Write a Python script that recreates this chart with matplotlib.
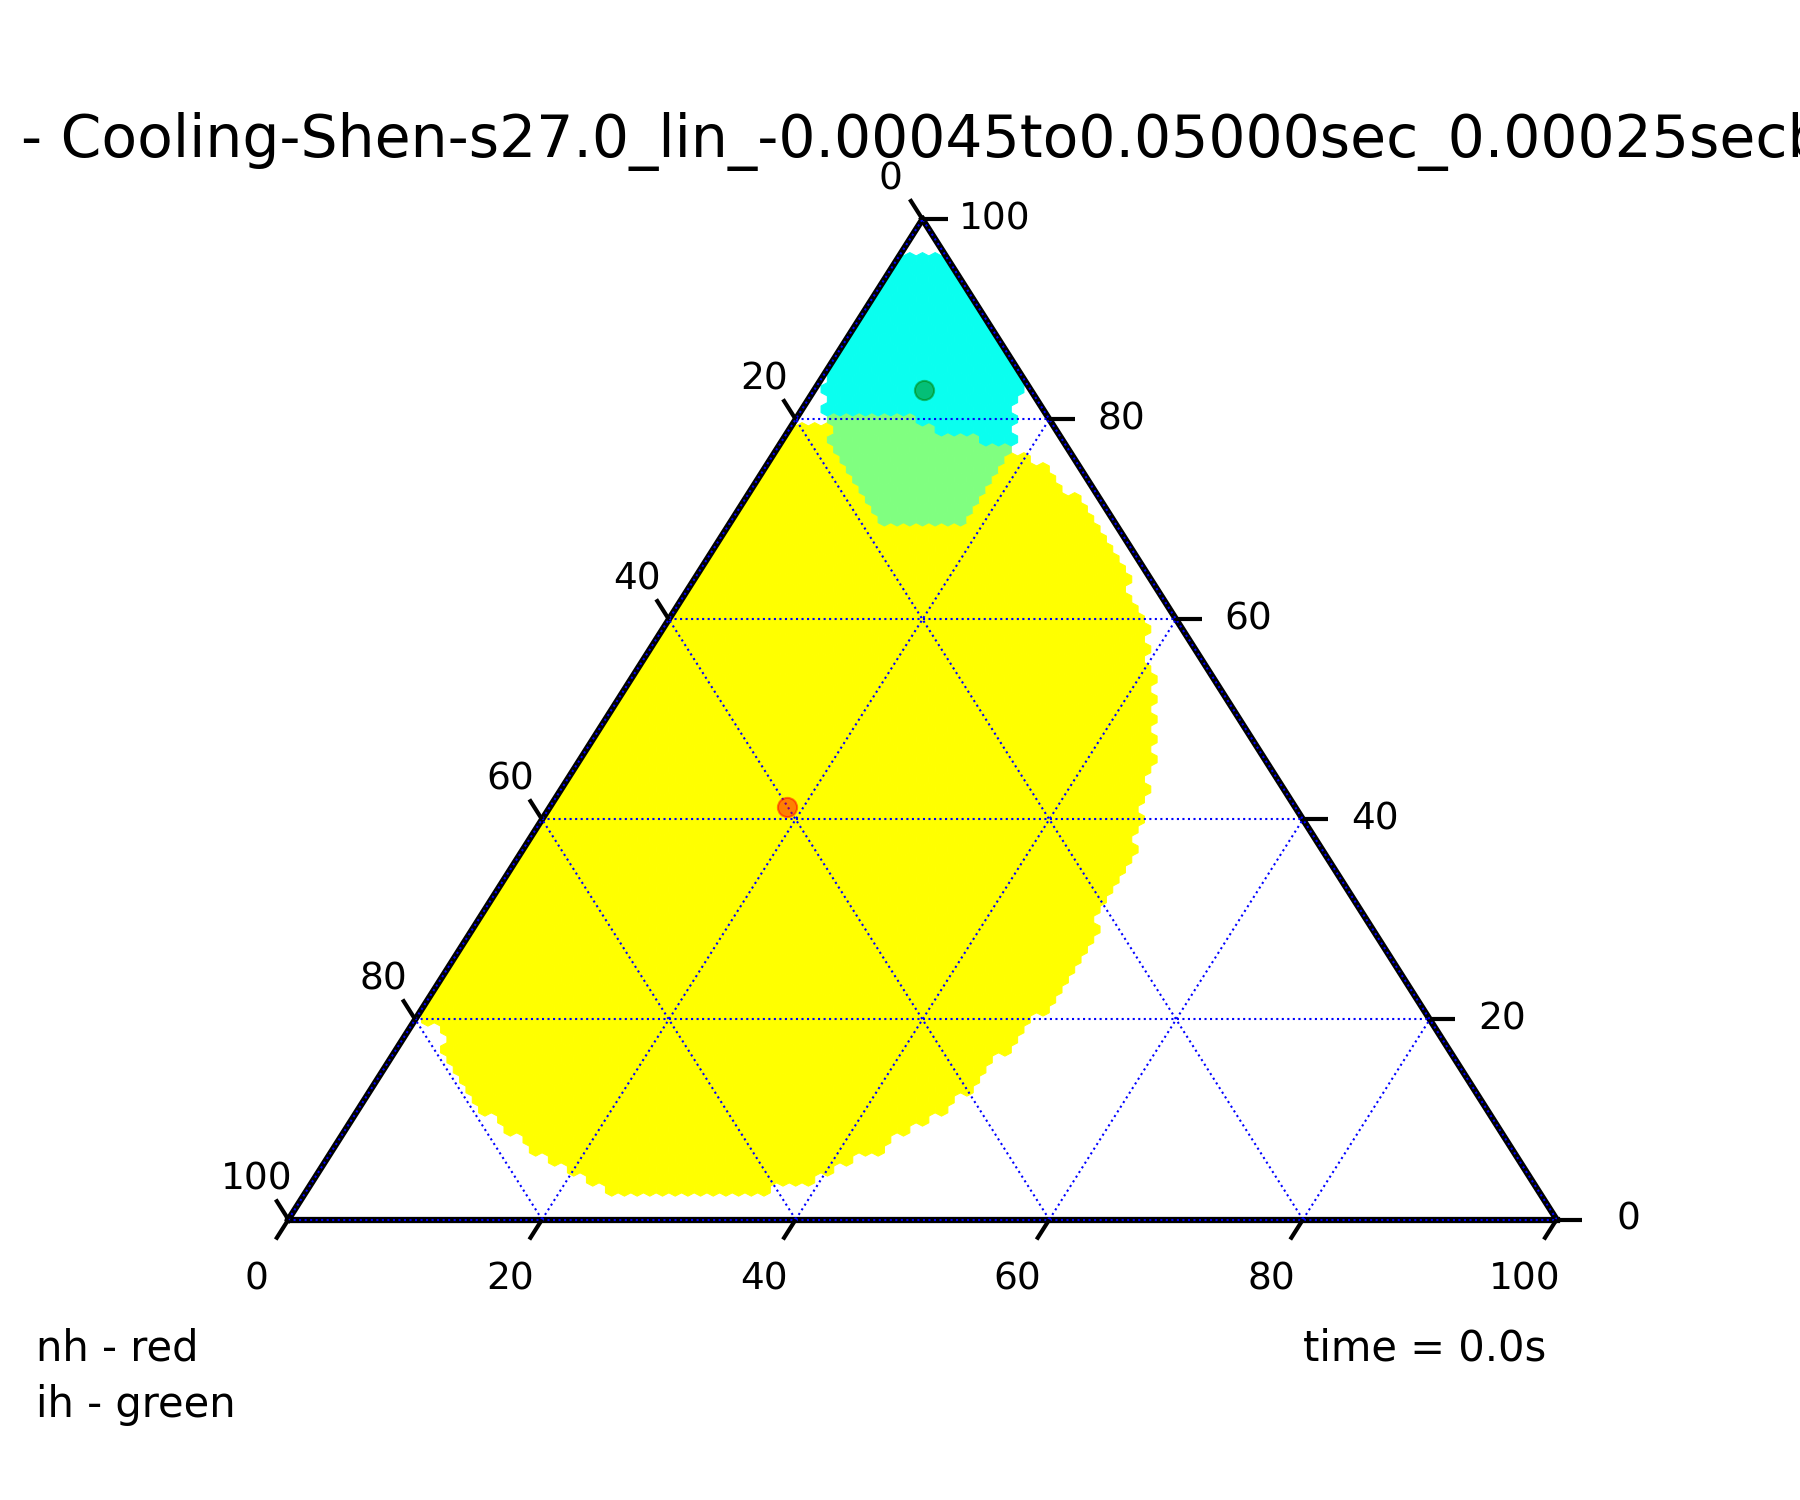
import numpy as np
import matplotlib
matplotlib.use("Agg")
import matplotlib.pyplot as plt
from matplotlib.collections import PolyCollection
from matplotlib.patches import Polygon
from matplotlib.path import Path

SCALE = 100
TITLE = "- Cooling-Shen-s27.0_lin_-0.00045to0.05000sec_0.00025secbin"
TICKS = [0, 20, 40, 60, 80, 100]
GRID_STEP = 20

# Region outlines, ternary (bottom, right) coordinates
YELLOW_B = [-1, 16, 18.5, 19.4, 24.3, 27.1, 31.5, 34.8, 38.1, 40.0, 42.4, 45.2, 46.3,
            47.0, 48.2, 48.3, 48.8, 49.2, 49.5, 48.7, 47.8, 47.1, 46.1, 44.2, 43.4,
            40.7, 39.3, 38.5, 36.6, 36.6, 24.5, 22.0, 17.9, 14.3, 11.2, 7.5, 5.0, 2.4, -1]
YELLOW_R = [79.5, 78.5, 76.9, 76.6, 73.6, 71.2, 66.6, 63.2, 59.2, 56.0, 51.6, 46.0, 43.0,
            40.6, 37.2, 35.0, 32.0, 28.0, 23.2, 19.6, 15.6, 13.0, 10.6, 9.2, 6.6,
            5.6, 4.2, 3.5, 3.5, 2.5, 2.5, 3.5, 5.6, 8.0, 10.0, 12.6, 15.2, 19.2, 20.5]

GREEN_B = [2.1, 9.0, 10.6, 13.7, 16.3, 18.1, 18.1, 18.3, 18.05, 17.4, 15.1, 12.7,
           10.8, 9.0, 6.8, 4.4, 2.7]
GREEN_R = [80.6, 80.6, 79.6, 78.6, 77.6, 77.25, 75.6, 72.6, 69.9, 69.6, 69.4, 69.6,
           70.6, 72.2, 74.6, 77.2, 80.2]

CYAN_B = [-1, 4.5, 16.0, 16.1, 16.7, 18.3, 18.3, 13.5, 10.0, 9.3, 2.1, 0.35, -1]
CYAN_R = [96.5, 96.5, 85.0, 83.2, 81.2, 77.9, 76.9, 78.5, 79.3, 80.55, 80.55, 83.9, 84.5]

REGION_COLORS = ["#ffff00", "#80ff80", "#0affef"]   # yellow, green, cyan

NH_POINT = (18.7, 41.2)   # red
IH_POINT = (8.7, 82.9)    # green

SQ3 = np.sqrt(3) / 2


def project(b, r):
    b = np.asarray(b, dtype=float)
    r = np.asarray(r, dtype=float)
    return b + r / 2.0, r * SQ3


def tline(ax, p1, p2, **kw):
    x, y = project([p1[0], p2[0]], [p1[1], p2[1]])
    ax.plot(x, y, **kw)


fig = plt.figure(figsize=(12, 10), dpi=150)
ax = fig.add_subplot(111)
ax.set_xlim(-5, 105)
ax.set_ylim(-10, 90)
ax.axis("off")

# ── heatmap cells (hexagonal) ─────────────────────────────────────────────
cb, cr = [], []
for r in range(SCALE + 1):
    for b in range(SCALE + 1 - r):
        cb.append(b)
        cr.append(r)
cb = np.array(cb, dtype=float)
cr = np.array(cr, dtype=float)
pts = np.column_stack([cb, cr])

region = np.full(len(cb), -1)
for idx, (rb, rr) in enumerate([(YELLOW_B, YELLOW_R), (GREEN_B, GREEN_R), (CYAN_B, CYAN_R)]):
    inside = Path(np.column_stack([rb, rr])).contains_points(pts)
    region[inside] = idx

deltas = np.array([[-1/3, 2/3], [1/3, 1/3], [2/3, -1/3],
                   [1/3, -2/3], [-1/3, -1/3], [-2/3, 1/3]])
polys, cols = [], []
for b, r, g in zip(cb, cr, region):
    if g < 0:
        continue
    hx, hy = project(b + deltas[:, 0], r + deltas[:, 1])
    polys.append(np.column_stack([hx, hy]))
    cols.append(REGION_COLORS[g])

coll = PolyCollection(polys, facecolors=cols, edgecolors=cols, linewidths=0.5, zorder=1)
ax.add_collection(coll)
tx, ty = project([0, SCALE, 0], [0, 0, SCALE])
tri = Polygon(np.column_stack([tx, ty]), closed=True, transform=ax.transData,
              facecolor="none", edgecolor="none")
coll.set_clip_path(tri)

# ── boundary ──────────────────────────────────────────────────────────────
tline(ax, (0, 0), (SCALE, 0), color="black", lw=3, zorder=2)
tline(ax, (SCALE, 0), (0, SCALE), color="black", lw=3, zorder=2)
tline(ax, (0, SCALE), (0, 0), color="black", lw=3, zorder=2)

# ── gridlines ─────────────────────────────────────────────────────────────
gkw = dict(color="blue", lw=1, ls=":", zorder=3)
for v in range(0, SCALE, GRID_STEP):
    tline(ax, (0, v), (SCALE - v, v), **gkw)          # constant right
    tline(ax, (v, 0), (v, SCALE - v), **gkw)          # constant bottom
    tline(ax, (SCALE - v, 0), (0, SCALE - v), **gkw)  # constant left

# ── ticks ─────────────────────────────────────────────────────────────────
off = 2.0
tkw = dict(color="black", lw=2, zorder=3, solid_capstyle="butt")
for i, t in enumerate(TICKS):
    # bottom
    tline(ax, (t, 0), (t, -off), **tkw)
    x, y = project(t + 0.5 * off, -3.5 * off)
    ax.text(x, y, str(TICKS[i]), ha="center", fontsize=18)
    # right
    tline(ax, (SCALE - t, t), (SCALE - t + off, t), **tkw)
    x, y = project(SCALE - t + 3.1 * off, t - 0.5 * off)
    ax.text(x, y, str(TICKS[i]), ha="center", fontsize=18)
    # left
    tline(ax, (0, t), (-off, t + off), **tkw)
    x, y = project(-2 * off, t + 1.5 * off)
    ax.text(x, y, str(TICKS[-(i + 1)]), ha="center", fontsize=18)

# ── points ────────────────────────────────────────────────────────────────
x, y = project(NH_POINT[0], NH_POINT[1])
ax.scatter([x], [y], s=85, color="red", alpha=0.5, zorder=4)
x, y = project(IH_POINT[0], IH_POINT[1])
ax.scatter([x], [y], s=85, color="green", alpha=0.5, zorder=4)

# ── text ──────────────────────────────────────────────────────────────────
fig.text(0.0115, 0.8951, TITLE, fontsize=28, ha="left", va="baseline")
fig.text(0.02, 0.0931, "nh - red", fontsize=20, va="baseline")
fig.text(0.02, 0.0556, "ih - green", fontsize=20, va="baseline")
fig.text(0.724, 0.0931, "time = 0.0s", fontsize=20, va="baseline")

fig.savefig("out.png", dpi=150)
